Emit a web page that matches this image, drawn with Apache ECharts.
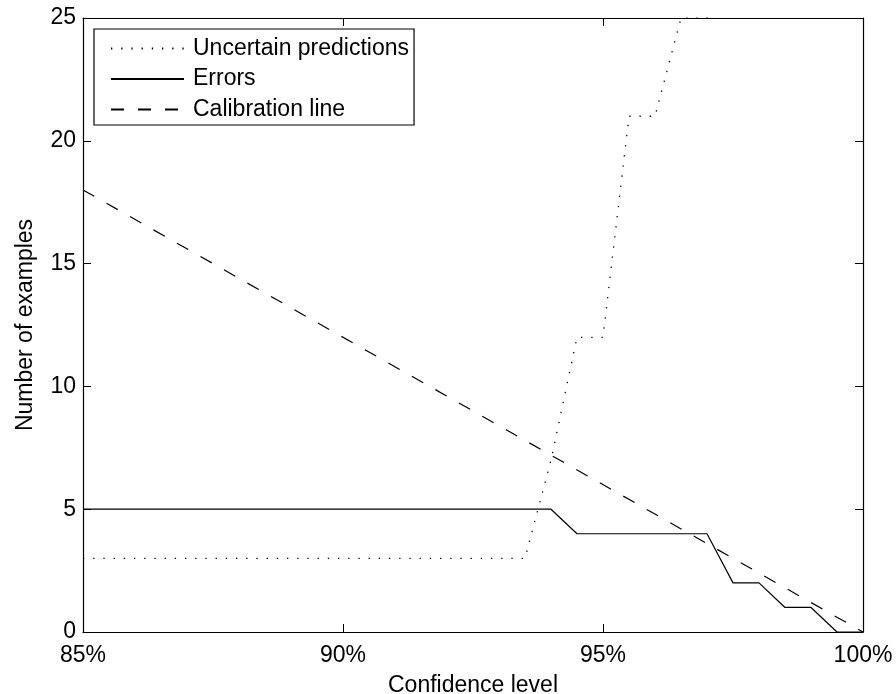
<!DOCTYPE html>
<html>
<head>
<meta charset="utf-8">
<script src="https://cdn.jsdelivr.net/npm/echarts@6/dist/echarts.min.js"></script>
<style>html,body{margin:0;padding:0;background:#fff;}#c{width:896px;height:694px;}</style>
</head>
<body>
<div id="c"></div>
<script>
// Confidence levels (%)
var confidence = [85, 85.5, 86, 86.5, 87, 87.5, 88, 88.5, 89, 89.5, 90, 90.5, 91, 91.5, 92, 92.5, 93, 93.5, 94, 94.5, 95, 95.5, 96, 96.5, 97, 97.5, 98, 98.5, 99, 99.5, 100];
var uncertain = [3, 3, 3, 3, 3, 3, 3, 3, 3, 3, 3, 3, 3, 3, 3, 3, 3, 3, 7, 12, 12, 21, 21, 25, 25, 31, 34, 42, 55, 78, 120];
var errors = [5, 5, 5, 5, 5, 5, 5, 5, 5, 5, 5, 5, 5, 5, 5, 5, 5, 5, 5, 4, 4, 4, 4, 4, 4, 2, 2, 1, 1, 0, 0];
var calibX = [85, 100];
var calibY = [18, 0];
var xTicks = [85, 90, 95, 100];
var yTicks = [0, 5, 10, 15, 20, 25];

function pairs(xs, ys) { return xs.map(function (x, i) { return [x, ys[i]]; }); }

var FONT = '"Liberation Sans", Arial, Helvetica, sans-serif';
var FS = 23;
var chart = echarts.init(document.getElementById('c'), null, { renderer: 'canvas' });
var axisBase = {
  type: 'value',
  axisLine: { show: true, onZero: false, lineStyle: { color: '#000', width: 1.2 } },
  axisTick: { show: true, inside: true, length: 8, lineStyle: { color: '#000', width: 1 } },
  splitLine: { show: false }
};
chart.setOption({
  animation: false,
  backgroundColor: '#fff',
  textStyle: { fontFamily: FONT, color: '#000' },
  grid: { left: 83, right: 33, top: 18, bottom: 62, containLabel: false, outerBoundsMode: 'none' },
  legend: {
    orient: 'vertical',
    left: 94, top: 29,
    padding: [8, 5, 4, 16],
    itemWidth: 73, itemHeight: 14, itemGap: 7.5,
    backgroundColor: '#fff',
    borderColor: '#000', borderWidth: 1.2, borderRadius: 0,
    itemStyle: { opacity: 0 },
    textStyle: { fontFamily: FONT, fontSize: FS, color: '#000', padding: [0, 0, 0, 4] },
    data: ['Uncertain predictions', 'Errors', 'Calibration line']
  },
  xAxis: [
    Object.assign({}, axisBase, {
      position: 'bottom', min: xTicks[0], max: xTicks[xTicks.length - 1], interval: 5,
      axisLabel: { show: true, margin: 12, fontSize: FS, color: '#000', fontFamily: FONT, formatter: '{value}%' },
      name: 'Confidence level', nameLocation: 'middle', nameGap: 42,
      nameTextStyle: { fontSize: FS, color: '#000', fontFamily: FONT }
    }),
    Object.assign({}, axisBase, {
      position: 'top', min: xTicks[0], max: xTicks[xTicks.length - 1], interval: 5,
      axisLabel: { show: false }
    })
  ],
  yAxis: [
    Object.assign({}, axisBase, {
      position: 'left', min: yTicks[0], max: yTicks[yTicks.length - 1], interval: 5,
      axisLabel: { show: true, margin: 7, fontSize: FS, color: '#000', fontFamily: FONT },
      name: 'Number of examples', nameLocation: 'middle', nameGap: 46,
      nameTextStyle: { fontSize: FS, color: '#000', fontFamily: FONT }
    }),
    Object.assign({}, axisBase, {
      position: 'right', min: yTicks[0], max: yTicks[yTicks.length - 1], interval: 5,
      axisLabel: { show: false }
    })
  ],
  series: [
    {
      name: 'Uncertain predictions', type: 'line', data: pairs(confidence, uncertain),
      symbol: 'none', showSymbol: false, clip: true, z: 3,
      lineStyle: { color: '#000', width: 1.3, type: [1.3, 8.9] },
      itemStyle: { color: '#000' }
    },
    {
      name: 'Errors', type: 'line', data: pairs(confidence, errors),
      symbol: 'none', showSymbol: false, clip: true, z: 4,
      lineStyle: { color: '#000', width: 1.2, type: 'solid' },
      itemStyle: { color: '#000' }
    },
    {
      name: 'Calibration line', type: 'line', data: pairs(calibX, calibY),
      symbol: 'none', showSymbol: false, clip: true, z: 3,
      lineStyle: { color: '#000', width: 1.2, type: [13, 14] },
      itemStyle: { color: '#000' }
    }
  ]
});
</script>
</body>
</html>
